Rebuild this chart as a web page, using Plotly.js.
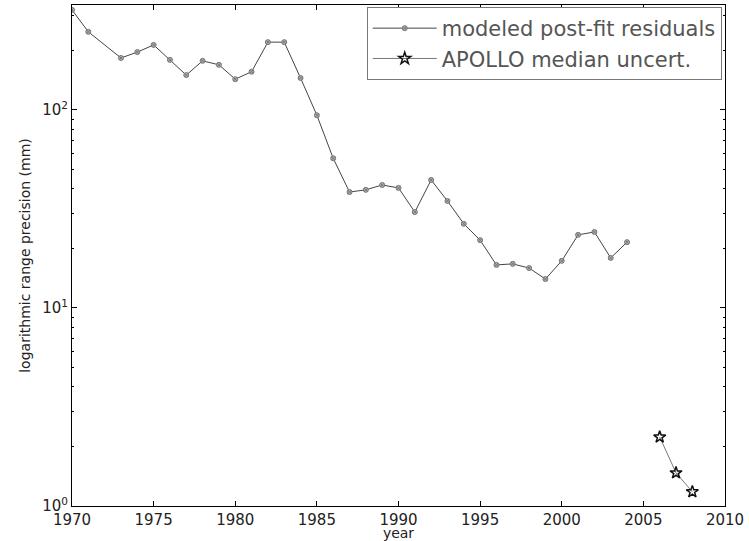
<!DOCTYPE html>
<html>
<head>
<meta charset="utf-8">
<script src="https://cdn.plot.ly/plotly-3.0.1.min.js"></script>
<style>html,body{margin:0;padding:0;background:#fff;}#chart{width:749px;height:541px;}</style>
</head>
<body>
<div id="chart"></div>
<script>
// Data
const modeledYears = [1970,1971,1973,1974,1975,1976,1977,1978,1979,1980,1981,1982,1983,1984,1985,1986,1987,1988,1989,1990,1991,1992,1993,1994,1995,1996,1997,1998,1999,2000,2001,2002,2003,2004];
const modeledValues = [320,248,183,196,213,179,150,177,169,143,156,220,220,145,94,57,38.5,39.5,41.8,40.4,30.5,44.3,34.7,26.6,22.0,16.5,16.7,15.9,14.0,17.3,23.4,24.2,17.9,21.5];
const apolloYears = [2006,2007,2008];
const apolloValues = [2.23,1.47,1.18];
const yTickVals = [1,10,100];
const yTickText = ['10<sup>0</sup>','10<sup>1</sup>','10<sup>2</sup>'];
const xTickVals = [1970,1975,1980,1985,1990,1995,2000,2005,2010];

const minorVals = [];
[1,10,100].forEach(d => { for (let k = 2; k <= 9; k++) minorVals.push(k*d); });

const traces = [
  {
    x: modeledYears, y: modeledValues, name: 'modeled post-fit residuals',
    type: 'scatter', mode: 'lines+markers',
    line: {color: '#444', width: 1},
    marker: {symbol: 'circle-x', size: 5, color: '#b0b0b0', line: {color: '#777', width: 1}}
  },
  {
    x: apolloYears, y: apolloValues, name: 'APOLLO median uncert.',
    type: 'scatter', mode: 'lines+markers',
    line: {color: '#777', width: 1},
    marker: {symbol: 'star-open', size: 9, color: '#111', line: {color: '#111', width: 1.5}}
  }
];

const layout = {
  width: 749, height: 541,
  margin: {l: 72, r: 24, t: 5, b: 35},
  paper_bgcolor: '#fff', plot_bgcolor: '#fff',
  font: {family: 'DejaVu Sans, sans-serif', color: '#222'},
  showlegend: true,
  legend: {
    x: 0.995, y: 0.996, xanchor: 'right', yanchor: 'top',
    bgcolor: '#fff', bordercolor: '#777', borderwidth: 1,
    font: {family: 'DejaVu Sans, sans-serif', size: 21, color: '#555'},
    itemwidth: 64, tracegroupgap: 0
  },
  xaxis: {
    range: [1970, 2010],
    tickmode: 'array', tickvals: xTickVals,
    ticks: 'inside', ticklen: 5, tickcolor: '#000',
    showline: true, linecolor: '#000', linewidth: 1, mirror: 'ticks',
    showgrid: false, zeroline: false,
    tickfont: {family: 'DejaVu Sans, sans-serif', size: 15, color: '#222'},
    title: {text: 'year', font: {family: 'DejaVu Sans, sans-serif', size: 14, color: '#222'}, standoff: 3}
  },
  yaxis: {
    type: 'log', range: [0, 2.53],
    tickmode: 'array', tickvals: yTickVals, ticktext: yTickText,
    ticks: 'inside', ticklen: 5, tickcolor: '#000',
    minor: {tickmode: 'array', tickvals: minorVals, ticks: 'inside', ticklen: 2, tickcolor: '#000', showgrid: false},
    showline: true, linecolor: '#000', linewidth: 1, mirror: 'ticks',
    showgrid: false, zeroline: false,
    tickfont: {family: 'DejaVu Sans, sans-serif', size: 15, color: '#222'},
    title: {text: 'logarithmic range precision (mm)', font: {family: 'DejaVu Sans, sans-serif', size: 14, color: '#222'}, standoff: 8}
  }
};

Plotly.newPlot('chart', traces, layout, {displayModeBar: false, staticPlot: true});
</script>
</body>
</html>
